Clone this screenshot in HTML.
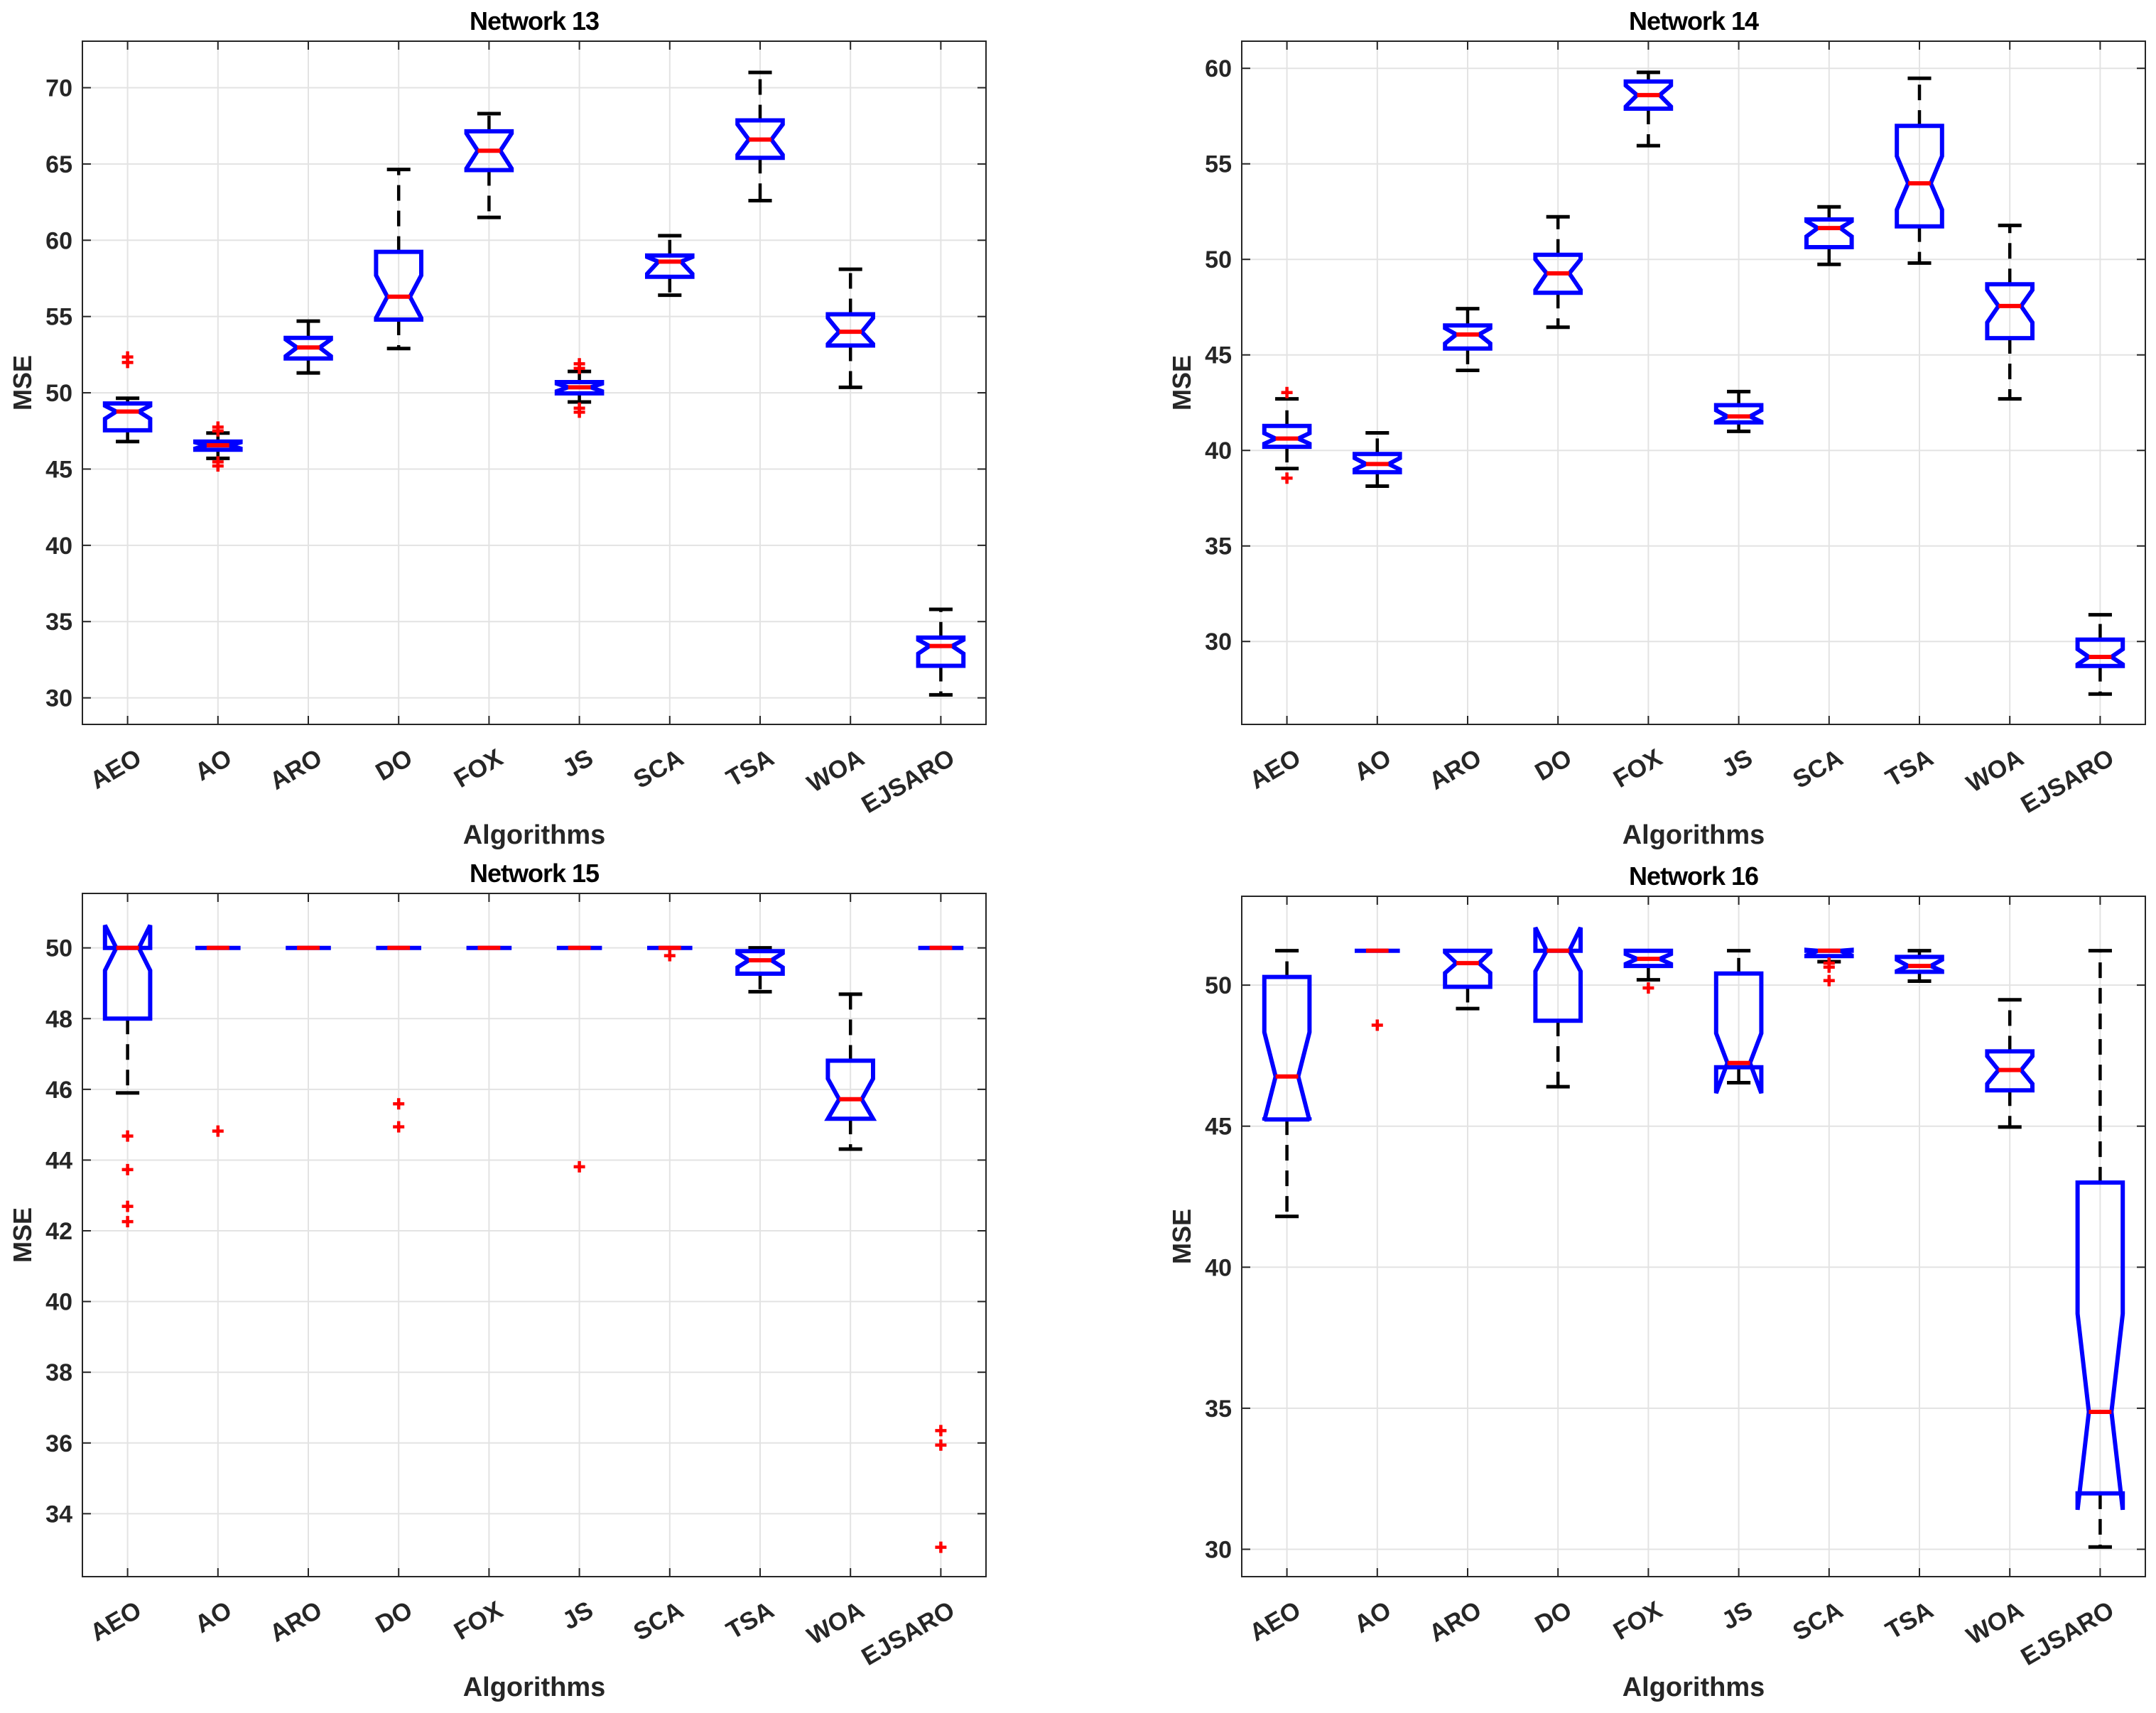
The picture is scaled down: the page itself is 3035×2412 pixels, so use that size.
<!DOCTYPE html>
<html><head><meta charset="utf-8">
<style>
html,body{margin:0;padding:0;background:#fff;}
svg{display:block;font-family:"Liberation Sans",Arial,sans-serif;}
</style></head>
<body>
<svg id="fig" width="3035" height="2412" viewBox="0 0 3035 2412" xmlns="http://www.w3.org/2000/svg"></svg>
<script>
const categories = ["AEO","AO","ARO","DO","FOX","JS","SCA","TSA","WOA","EJSARO"];

// Network 13
const n13_hi  = [49.64,47.36,54.7,64.64,68.3,51.4,60.3,71.0,58.1,35.8];
const n13_q3  = [49.3,46.8,53.6,59.24,67.14,50.7,59.0,67.86,55.15,33.95];
const n13_med = [48.77,46.56,52.97,56.3,65.87,50.36,58.6,66.6,54.0,33.4];
const n13_q1  = [47.54,46.27,52.25,54.8,64.6,49.96,57.6,65.4,53.1,32.1];
const n13_lo  = [46.8,45.7,51.3,52.9,61.5,49.4,56.4,62.6,50.36,30.2];
const n13_nhi = [49.15,46.75,53.5,57.7,67.0,50.6,58.9,67.6,54.9,33.8];
const n13_nlo = [48.3,46.35,52.4,54.9,64.7,50.1,57.8,65.6,53.2,32.9];
const n13_out = [[52.35,51.99],[47.75,47.5,45.47,45.2],[],[],[],[51.9,51.6,48.99,48.73],[],[],[],[]];
const n13_ticks = [30,35,40,45,50,55,60,65,70];

// Network 14
const n14_hi  = [42.7,40.92,47.42,52.23,59.79,43.08,52.75,59.48,51.78,31.4];
const n14_q3  = [41.28,39.81,46.54,50.24,59.31,42.37,52.09,56.99,48.7,30.1];
const n14_med = [40.62,39.29,46.07,49.27,58.6,41.78,51.64,53.98,47.56,29.19];
const n14_q1  = [40.19,38.86,45.33,48.25,57.89,41.47,50.64,51.73,45.88,28.72];
const n14_lo  = [39.05,38.13,44.19,46.45,55.95,41.0,49.74,49.81,42.7,27.25];
const n14_nhi = [40.9,39.6,46.4,50.0,59.1,42.1,52.0,55.4,48.4,29.6];
const n14_nlo = [40.35,39.0,45.6,48.4,58.0,41.5,51.2,52.6,46.7,28.8];
const n14_out = [[43.03,38.55],[],[],[],[],[],[],[],[],[]];
const n14_ticks = [30,35,40,45,50,55,60];

// Network 15
const n15_hi  = [50,50,50,50,50,50,50,50,48.69,50];
const n15_q3  = [50,50,50,50,50,50,50,49.91,46.81,50];
const n15_med = [50,50,50,50,50,50,50,49.65,45.72,50];
const n15_q1  = [48,50,50,50,50,50,50,49.27,45.17,50];
const n15_lo  = [45.9,50,50,50,50,50,50,48.76,44.31,50];
const n15_nhi = [50.64,50,50,50,50,50,50,49.85,46.3,50];
const n15_nlo = [49.36,50,50,50,50,50,50,49.45,45.17,50];
const n15_out = [[44.68,43.73,42.69,42.26],[44.82],[],[45.59,44.94],[],[43.81],[49.78],[],[],[36.35,35.94,33.05]];
const n15_ticks = [34,36,38,40,42,44,46,48,50];

// Network 16
const n16_hi  = [51.22,51.22,51.22,51.22,51.22,51.22,51.22,51.22,49.48,51.22];
const n16_q3  = [50.29,51.22,51.22,51.22,51.22,50.41,51.22,51.0,47.65,43.0];
const n16_med = [46.76,51.22,50.78,51.22,50.93,47.24,51.22,50.68,46.99,34.87];
const n16_q1  = [45.24,51.22,49.94,48.74,50.68,47.09,51.03,50.47,46.27,31.98];
const n16_lo  = [41.8,51.22,49.17,46.4,50.19,46.54,50.83,50.14,44.97,30.08];
const n16_nhi = [48.33,51.22,51.16,52.04,51.1,48.29,51.25,50.9,47.48,38.35];
const n16_nlo = [45.2,51.22,50.43,50.49,50.75,46.17,51.05,50.5,46.5,31.4];
const n16_out = [[],[48.58],[],[],[49.9],[],[50.78,50.64,50.16],[],[],[]];
const n16_ticks = [30,35,40,45,50];

const NS = "http://www.w3.org/2000/svg";
const svg = document.getElementById("fig");
function mk(tag, attrs, parent){
  const e = document.createElementNS(NS, tag);
  for (const k in attrs) e.setAttribute(k, attrs[k]);
  (parent||svg).appendChild(e);
  return e;
}

const panels = [
  {title:"Network 13", L:116, R:1388, T:58, B:1020, ymin:28.26, ymax:73.05, ticks:n13_ticks, hi:n13_hi,q3:n13_q3,med:n13_med,q1:n13_q1,lo:n13_lo,nhi:n13_nhi,nlo:n13_nlo,out:n13_out, xl:1175, key:"network-13"},
  {title:"Network 14", L:1748, R:3020, T:58, B:1020, ymin:25.66, ymax:61.42, ticks:n14_ticks, hi:n14_hi,q3:n14_q3,med:n14_med,q1:n14_q1,lo:n14_lo,nhi:n14_nhi,nlo:n14_nlo,out:n14_out, xl:1175, key:"network-14"},
  {title:"Network 15", L:116, R:1388, T:1258, B:2220, ymin:32.22, ymax:51.54, ticks:n15_ticks, hi:n15_hi,q3:n15_q3,med:n15_med,q1:n15_q1,lo:n15_lo,nhi:n15_nhi,nlo:n15_nlo,out:n15_out, xl:2375, key:"network-15"},
  {title:"Network 16", L:1748, R:3020, T:1262, B:2220, ymin:29.03, ymax:53.15, ticks:n16_ticks, hi:n16_hi,q3:n16_q3,med:n16_med,q1:n16_q1,lo:n16_lo,nhi:n16_nhi,nlo:n16_nlo,out:n16_out, xl:2375, key:"network-16"}
];

panels.forEach(p => {
  const g = mk("g", {});
  
  
  const xS = v => p.L + (v - 0.5) / 10 * (p.R - p.L);
  const yS = v => p.B - (v - p.ymin) / (p.ymax - p.ymin) * (p.B - p.T);
  const step = (p.R - p.L) / 10;

  const bg = mk("rect", {x:p.L, y:p.T, width:p.R-p.L, height:p.B-p.T, fill:"#fff"}, g);
  
  

  p.ticks.forEach(t => {
    const y = yS(t);
    const gl = mk("line", {x1:p.L, x2:p.R, y1:y, y2:y, stroke:"#e3e3e3", "stroke-width":2}, g);
    
    
    mk("line", {x1:p.L, x2:p.L+12, y1:y, y2:y, stroke:"#262626", "stroke-width":2}, g);
    mk("line", {x1:p.R, x2:p.R-12, y1:y, y2:y, stroke:"#262626", "stroke-width":2}, g);
    const tl = mk("text", {x:p.L-14, y:y+12, "text-anchor":"end", "font-size":34, "font-weight":"bold", fill:"#262626"}, g);
    tl.textContent = t;
    
    
  });
  categories.forEach((c, i) => {
    const x = xS(i + 1);
    const gl = mk("line", {x1:x, x2:x, y1:p.T, y2:p.B, stroke:"#e3e3e3", "stroke-width":2}, g);
    
    
    mk("line", {x1:x, x2:x, y1:p.B, y2:p.B-12, stroke:"#262626", "stroke-width":2}, g);
    mk("line", {x1:x, x2:x, y1:p.T, y2:p.T+12, stroke:"#262626", "stroke-width":2}, g);
    const tl = mk("text", {transform:`translate(${x+22},${p.B+54}) rotate(-30)`, "text-anchor":"end", "font-size":35, "font-weight":"bold", fill:"#262626"}, g);
    tl.textContent = c;
    
    
  });

  const fr = mk("rect", {x:p.L, y:p.T, width:p.R-p.L, height:p.B-p.T, fill:"none", stroke:"#262626", "stroke-width":2}, g);
  
  

  categories.forEach((c, i) => {
    const cx = xS(i + 1);
    const hw = step * 0.25, inset = step * 0.125, cap = step * 0.13;
    const bx = mk("g", {}, g);
    
    
    [[p.q3[i], p.hi[i]], [p.q1[i], p.lo[i]]].forEach(([a, b]) => {
      const w = mk("line", {x1:cx, x2:cx, y1:yS(a), y2:yS(b), stroke:"#000", "stroke-width":4.5, "stroke-dasharray":"22,14"}, bx);
      
      
      const cp = mk("line", {x1:cx-cap, x2:cx+cap, y1:yS(b), y2:yS(b), stroke:"#000", "stroke-width":5}, bx);
      
      
    });
    const L = cx - hw, R = cx + hw;
    const pts = [[L,p.q1[i]],[L,p.nlo[i]],[L+inset,p.med[i]],[L,p.nhi[i]],[L,p.q3[i]],
                 [R,p.q3[i]],[R,p.nhi[i]],[R-inset,p.med[i]],[R,p.nlo[i]],[R,p.q1[i]]]
                 .map(([x,v]) => x.toFixed(1) + "," + yS(v).toFixed(1)).join(" ");
    const poly = mk("polygon", {points:pts, fill:"none", stroke:"#0000ff", "stroke-width":6, "stroke-linejoin":"miter"}, bx);
    
    
    const md = mk("line", {x1:L+inset, x2:R-inset, y1:yS(p.med[i]), y2:yS(p.med[i]), stroke:"#ff0000", "stroke-width":6}, bx);
    
    
    p.out[i].forEach(v => {
      const y = yS(v);
      const o = mk("path", {d:`M${cx-8},${y}H${cx+8}M${cx},${y-8}V${y+8}`, stroke:"#ff0000", "stroke-width":4.5, fill:"none"}, bx);
      
      
    });
  });

  const cxm = (p.L + p.R) / 2;
  const tt = mk("text", {x:cxm, y:p.T-16, "text-anchor":"middle", "font-size":36, "font-weight":"bold", fill:"#000", "letter-spacing":"-1"}, g);
  tt.textContent = p.title;
  
  
  const xl = mk("text", {x:cxm, y:p.xl+13, "text-anchor":"middle", "font-size":38, "font-weight":"bold", fill:"#262626"}, g);
  xl.textContent = "Algorithms";
  
  
  const ym = (p.T + p.B) / 2;
  const yl = mk("text", {transform:`translate(${p.L-72},${ym}) rotate(-90)`, "text-anchor":"middle", "font-size":36, "font-weight":"bold", fill:"#262626"}, g);
  yl.textContent = "MSE";
  
  
});
</script>
</body></html>
